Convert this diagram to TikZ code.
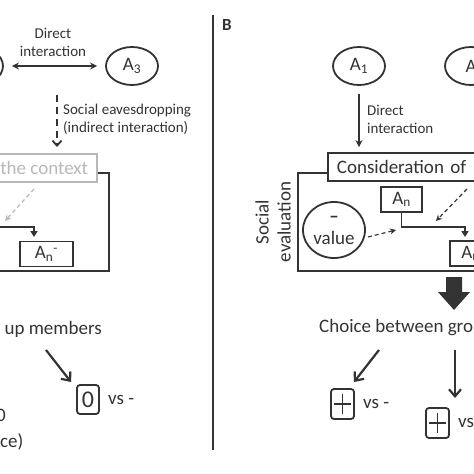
\documentclass[tikz,border=0pt]{standalone}
\usepackage{fontspec}
\setmainfont{Carlito}
\usetikzlibrary{positioning,arrows.meta,shapes.geometric}
\definecolor{ink}{HTML}{333333}
\definecolor{pale}{HTML}{B8B8B8}
\begin{document}
\begin{tikzpicture}[x=1pt,y=-1pt,
		agent/.style={ellipse,draw=ink,line width=1.8pt,minimum width=52pt,minimum height=38pt,inner sep=0pt,text=ink,font=\fontsize{19}{22}\selectfont},
		abox/.style={rectangle,draw=ink,line width=1.8pt,minimum height=25pt,inner sep=0pt,text=ink,font=\fontsize{19}{22}\selectfont},
		signbox/.style={rectangle,rounded corners=3pt,draw=ink,line width=1.8pt,minimum width=22pt,minimum height=29pt,inner sep=0pt,text=ink,font=\fontsize{24}{26}\selectfont},
		small/.style={text=ink,inner sep=0pt,font=\fontsize{15}{18}\selectfont},
		big/.style={text=ink,inner sep=0pt,font=\fontsize{19}{22}\selectfont},
		frame/.style={draw=ink,line width=1.8pt},
		onearrow/.style={draw=ink,line width=1.6pt,-{Stealth[length=7pt,width=7pt]}},
		twoarrow/.style={draw=ink,line width=1.6pt,{Stealth[length=7pt,width=7pt]}-{Stealth[length=7pt,width=7pt]}},
		elbow/.style={draw=ink,line width=1.8pt,-{Triangle[length=6pt,width=7pt]}},
		bararrow/.style={draw=ink,line width=2.2pt,-{Straight Barb[length=7pt,width=12pt]}},
		dasharrow/.style={draw=ink,line width=1.2pt,dash pattern=on 4pt off 3pt,-{Stealth[length=6pt,width=6pt]}}]
	\useasboundingbox (0,0) rectangle (474,474);
	\clip (0,0) rectangle (474,474);

	% panel A
	\node[agent] (a2) at (-23,66) {};
	\node[agent] (a3) at (132,66) {A\textsubscript{3}};
	\draw[twoarrow,shorten <=8pt,shorten >=8pt] (a2) -- (a3);
	\node[small,align=center] (di1) at (53,42) {Direct\\interaction};

	\coordinate (ed1) at (57,95);
	\coordinate (ed2) at (57,147);
	\draw[ink,line width=1.8pt,dash pattern=on 7pt off 5pt,-{Straight Barb[length=5pt,width=9pt]}] (ed1) -- (ed2);
	\node[small,align=left,anchor=west] (eav) at (63,119) {Social eavesdropping\\(indirect interaction)};

	\node[big,draw=pale,text=pale,line width=1.8pt,minimum height=28pt,inner xsep=9pt,anchor=east] (ctx) at (98,168) {the context};
	\draw[frame] ([yshift=-5pt]ctx.east) -| (109,271) -- (-10,271);

	\coordinate (gd1) at (34,189);
	\coordinate (gd2) at (5,221);
	\draw[dasharrow,draw=pale] (gd1) -- (gd2);

	\node[abox,minimum width=53pt] (anl) at (46.5,254) {A\textsubscript{n}\textsuperscript{-}};
	\coordinate (el1) at (-10,227);
	\coordinate (el2) at (34,237);
	\draw[elbow] (el1) -| (el2);

	\node[big,anchor=east] (chl) at (102,329) {up members};
	\coordinate (cl1) at (46,350);
	\coordinate (cl2) at (71,382);
	\draw[bararrow] (cl1) -- (cl2);
	\node[signbox] (z0) at (88,399.5) {0};
	\node[big,right=8pt of z0] (vs1) {vs -};
	\node[big,anchor=east] (zl) at (6,415) {0};
	\node[big,anchor=west] (cel) at (0,442) {ce)};

	% divider
	\coordinate (d1) at (213,15);
	\coordinate (d2) at (213,450);
	\draw[ink,line width=1.4pt] (d1) -- (d2);

	% panel B
	\node[text=ink,inner sep=0pt,font=\fontsize{17}{20}\selectfont\bfseries] (lb) at (227,25) {B};
	\node[agent] (a1) at (359,66) {A\textsubscript{1}};
	\node[agent] (a2b) at (471,66) {A};

	\node[big,draw=ink,line width=1.8pt,minimum height=28pt,inner xsep=9pt,text width=160pt,align=left,anchor=west] (cons) at (327,167) {Consideration of};
	\draw[onearrow,shorten <=8pt,shorten >=5pt] (a1.south) -- (a1.south |- cons.north);
	\node[small,align=left,anchor=west] (di2) at (367,119) {Direct\\interaction};
	\draw[frame] ([yshift=-6pt]cons.west) -| (298,271) -- (480,271);

	\node[big,rotate=90,align=center] (se) at (273,222) {Social\\evaluation};
	\node[ellipse,draw=ink,line width=1.8pt,minimum width=62pt,minimum height=56pt,inner sep=0pt,big,align=center] (val) at (334,230) {\textbf{–}\\value};

	\coordinate (vd1) at (368,237);
	\coordinate (vd2) at (396,230);
	\draw[dasharrow] (vd1) -- (vd2);

	\node[abox,minimum width=41pt] (an1) at (401.5,199.5) {A\textsubscript{n}};
	\coordinate (el3) at (465,237);
	\draw[elbow] (an1.south) -- ++(0,14) -| (el3);
	\coordinate (cd1) at (467,189);
	\coordinate (cd2) at (436,221);
	\draw[dasharrow] (cd1) -- (cd2);
	\node[abox,minimum width=41pt] (an2) at (470.5,253.5) {A\textsubscript{n}};

	% big arrow
	\fill[ink] (446,277) -- (462,277) -- (462,292) -- (470,292) -- (454,310) -- (438,292) -- (446,292) -- cycle;

	\node[big,anchor=west] (chr) at (319,328) {Choice between gro};
	\coordinate (cr1) at (379,350);
	\coordinate (cr2) at (354,382);
	\draw[bararrow] (cr1) -- (cr2);
	\coordinate (cr3) at (455,350);
	\coordinate (cr4) at (455,398);
	\draw[bararrow] (cr3) -- (cr4);

	\node[signbox,minimum width=23pt,minimum height=30pt,path picture={
		\draw[ink,line width=1.6pt] ([xshift=3pt]path picture bounding box.west) -- ([xshift=-3pt]path picture bounding box.east);
		\draw[ink,line width=1.6pt] ([yshift=-5pt]path picture bounding box.north) -- ([yshift=5pt]path picture bounding box.south);}] (p1) at (342.5,404) {};
	\node[big,right=8pt of p1] (vs2) {vs -};
	\node[signbox,minimum width=23pt,minimum height=30pt,path picture={
		\draw[ink,line width=1.6pt] ([xshift=3pt]path picture bounding box.west) -- ([xshift=-3pt]path picture bounding box.east);
		\draw[ink,line width=1.6pt] ([yshift=-5pt]path picture bounding box.north) -- ([yshift=5pt]path picture bounding box.south);}] (p2) at (437.5,423) {};
	\node[big,right=8pt of p2] (vs3) {vs};
\end{tikzpicture}
\end{document}
